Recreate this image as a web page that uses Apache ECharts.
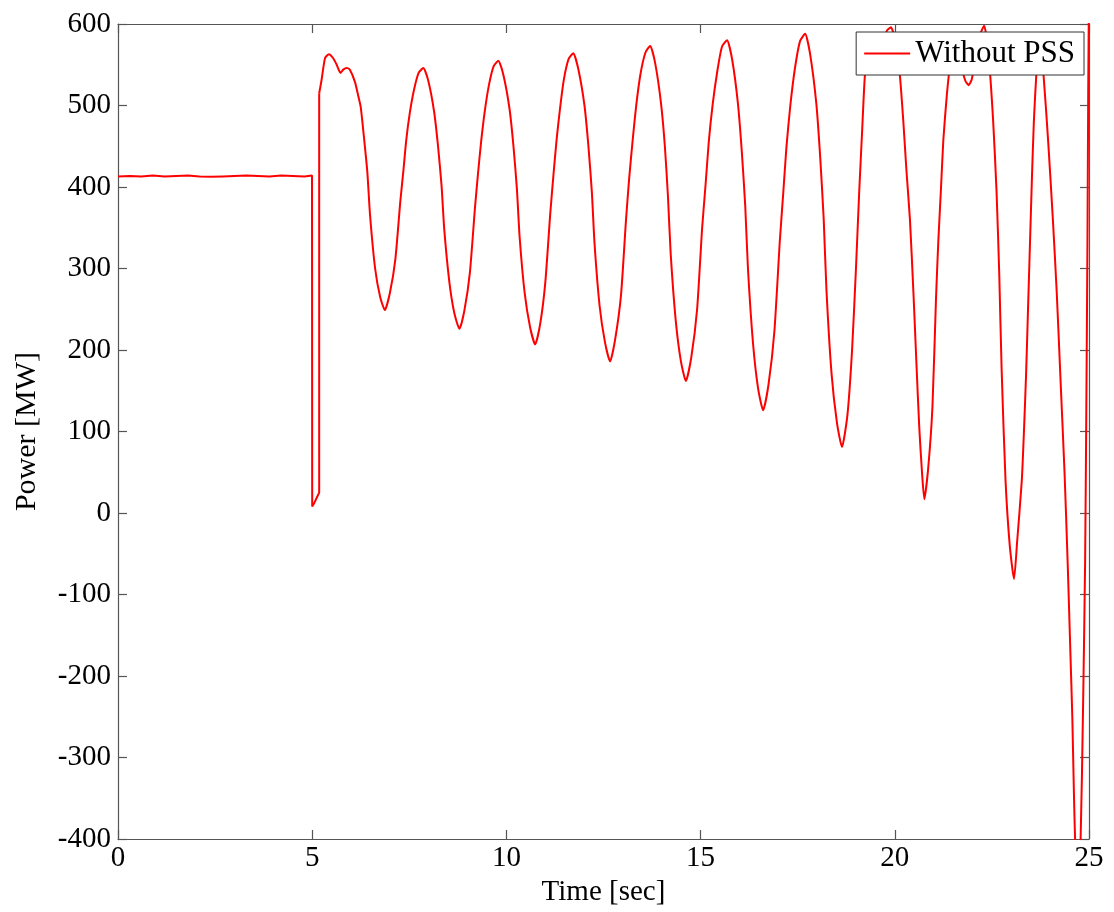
<!DOCTYPE html>
<html>
<head>
<meta charset="utf-8">
<title>Power - Without PSS</title>
<script src="https://cdn.jsdelivr.net/npm/echarts@6/dist/echarts.min.js"></script>
<style>
  html, body { margin: 0; padding: 0; background: #ffffff; }
  #chart { width: 1114px; height: 912px; }
</style>
</head>
<body>
<div id="chart"></div>
<script>
// Generator electrical power after the disturbance at t = 5 s (no PSS)
const seriesName = 'Without PSS';
const xTicks = [0, 5, 10, 15, 20, 25];
const yTicks = [-400, -300, -200, -100, 0, 100, 200, 300, 400, 500, 600];

// steady state before the fault
const preTime  = [0, 0.3, 0.6, 0.9, 1.2, 1.5, 1.8, 2.1, 2.4, 2.7, 3.0, 3.3, 3.6, 3.9, 4.2, 4.5, 4.8, 4.995];
const prePower = [413, 413.5, 413, 414, 413, 413.5, 414, 413, 412.5, 413, 413.5, 414, 413.5, 413, 414, 413.5, 413, 414];

// fault dip, up to the jump back at clearing
const faultTime  = [5.0, 5.06, 5.12, 5.18, 5.18];
const faultPower = [8, 13, 19, 25, 515];

// first swing and the growing oscillation that follows
const swingTime = [
  5.18, 5.24, 5.33, 5.43, 5.54, 5.63, 5.73, 5.80, 5.89, 5.97, 6.10, 6.19, 6.25, 6.33, 6.42, 6.49, 6.62, 6.75, 6.87,
  7.00, 7.14, 7.27, 7.35, 7.42, 7.51, 7.62, 7.74, 7.86, 7.99, 8.14, 8.24, 8.33, 8.40, 8.53, 8.66, 8.79,
  8.92, 9.06, 9.19, 9.27, 9.35, 9.44, 9.55, 9.67, 9.79, 9.92, 10.08, 10.18, 10.27, 10.34, 10.47, 10.61, 10.74,
  10.87, 11.00, 11.13, 11.21, 11.29, 11.38, 11.48, 11.60, 11.72, 11.85, 12.01, 12.11, 12.20, 12.27, 12.40, 12.54, 12.67,
  12.80, 12.95, 13.08, 13.16, 13.25, 13.34, 13.45, 13.58, 13.70, 13.83, 13.98, 14.08, 14.16, 14.23, 14.36, 14.49, 14.62,
  14.76, 14.91, 15.04, 15.13, 15.21, 15.31, 15.43, 15.55, 15.68, 15.81, 15.96, 16.06, 16.15, 16.22, 16.35, 16.48, 16.61,
  16.75, 16.90, 17.04, 17.13, 17.21, 17.31, 17.43, 17.56, 17.69, 17.82, 17.98, 18.08, 18.17, 18.24, 18.37, 18.51, 18.64,
  18.78, 18.90, 19.00, 19.08, 19.16, 19.23, 19.32, 19.42, 19.55, 19.68, 19.80, 19.90, 20.00, 20.13, 20.22, 20.30, 20.39, 20.48, 20.56, 20.63, 20.70, 20.76,
  20.86, 20.97, 21.06, 21.12, 21.19, 21.25, 21.34, 21.43, 21.52, 21.62, 21.72, 21.82, 21.90, 21.98, 22.06, 22.15, 22.22, 22.30,
  22.41, 22.53, 22.62, 22.69, 22.75, 22.85, 22.96, 23.07,
  23.15, 23.27, 23.33, 23.38, 23.43, 23.48, 23.53, 23.58, 23.64, 23.69, 23.74, 23.83, 23.95, 24.07, 24.17, 24.27, 24.37,
  24.45, 24.52, 24.57, 24.61, 24.65, 24.71, 24.78, 24.85, 24.90, 24.93, 24.96, 24.98, 25.0
];
const swingPower = [
  515, 531, 558, 563, 558, 550, 540, 544, 546, 544, 529, 511, 498, 462, 418, 365, 300, 265, 249,
  270, 311, 383, 421, 457, 490, 519, 540, 546, 530, 492, 450, 402, 348, 284, 245, 226,
  249, 295, 374, 417, 456, 492, 525, 548, 555, 538, 496, 451, 398, 339, 270, 228, 207,
  232, 282, 368, 414, 457, 496, 532, 557, 564, 545, 500, 451, 394, 330, 254, 209, 186,
  213, 267, 360, 410, 457, 499, 538, 565, 573, 552, 503, 450, 388, 318, 236, 187, 162,
  191, 250, 350, 404, 455, 501, 542, 572, 580, 557, 503, 444, 376, 299, 208, 153, 126,
  158, 223, 334, 394, 449, 500, 546, 579, 588, 563, 502, 436, 360, 274, 172, 111, 81,
  120, 200, 300, 390, 470, 537, 570, 580, 575, 580, 592, 596, 582, 537, 480, 420, 360, 270, 180, 105, 50, 17,
  55, 131, 262, 333, 399, 458, 513, 551, 562, 558, 545, 530, 525, 532, 552, 575, 590, 598,
  564, 483, 394, 292, 177, 41, -40, -81,
  -35, 40, 106, 170, 250, 330, 410, 480, 535, 562, 572, 537, 455, 360, 270, 160, 50,
  -60, -170, -250, -340, -410, -440, -410, -229, -60, 120, 330, 520, 640
];

const stepTime = preTime.concat(faultTime);
const stepPower = prePower.concat(faultPower);
const stepPoints = stepTime.map((t, i) => [t, stepPower[i]]);
const swingPoints = swingTime.map((t, i) => [t, swingPower[i]]);

const FONT = 'Liberation Serif';
const AXIS_COLOR = '#555555';
const LINE = { color: '#ff0000', width: 2 };

function axisBase(extra) {
  return Object.assign({
    type: 'value',
    axisLine: { show: true, onZero: false, lineStyle: { color: AXIS_COLOR, width: 1.2 } },
    axisTick: { show: true, inside: true, length: 9, lineStyle: { color: AXIS_COLOR, width: 1.2 } },
    splitLine: { show: false },
    axisLabel: { show: false }
  }, extra);
}

const chart = echarts.init(document.getElementById('chart'), null, { renderer: 'canvas' });

chart.setOption({
  backgroundColor: '#ffffff',
  animation: false,
  grid: { left: 118, right: 25, top: 24, bottom: 73, containLabel: false },
  legend: {
    data: [seriesName],
    right: 30,
    top: 32,
    orient: 'horizontal',
    icon: 'rect',
    itemWidth: 46,
    itemHeight: 2,
    padding: [6, 9, 6, 8],
    backgroundColor: '#ffffff',
    borderColor: '#333333',
    borderWidth: 1,
    borderRadius: 0,
    textStyle: { fontFamily: FONT, fontSize: 31, color: '#000000' }
  },
  xAxis: [
    axisBase({
      position: 'bottom',
      min: xTicks[0], max: xTicks[xTicks.length - 1], interval: 5,
      name: 'Time [sec]',
      nameLocation: 'middle',
      nameGap: 34,
      nameTextStyle: { fontFamily: FONT, fontSize: 29, color: '#000000' },
      axisLabel: { show: true, margin: 5, fontFamily: FONT, fontSize: 29, color: '#000000' }
    }),
    axisBase({
      position: 'top',
      min: xTicks[0], max: xTicks[xTicks.length - 1], interval: 5
    })
  ],
  yAxis: [
    axisBase({
      position: 'left',
      min: yTicks[0], max: yTicks[yTicks.length - 1], interval: 100,
      name: 'Power [MW]',
      nameLocation: 'middle',
      nameGap: 76,
      nameTextStyle: { fontFamily: FONT, fontSize: 30, color: '#000000' },
      axisLabel: { show: true, margin: 7, fontFamily: FONT, fontSize: 29, color: '#000000' }
    }),
    axisBase({
      position: 'right',
      min: yTicks[0], max: yTicks[yTicks.length - 1], interval: 100
    })
  ],
  series: [
    {
      name: seriesName,
      type: 'line',
      data: stepPoints,
      showSymbol: false,
      symbol: 'none',
      clip: true,
      lineStyle: LINE,
      itemStyle: { color: '#ff0000' },
      emphasis: { disabled: true }
    },
    {
      name: seriesName,
      type: 'line',
      data: swingPoints,
      smooth: 0.2,
      showSymbol: false,
      symbol: 'none',
      clip: true,
      lineStyle: LINE,
      itemStyle: { color: '#ff0000' },
      emphasis: { disabled: true }
    }
  ]
});
</script>
</body>
</html>
